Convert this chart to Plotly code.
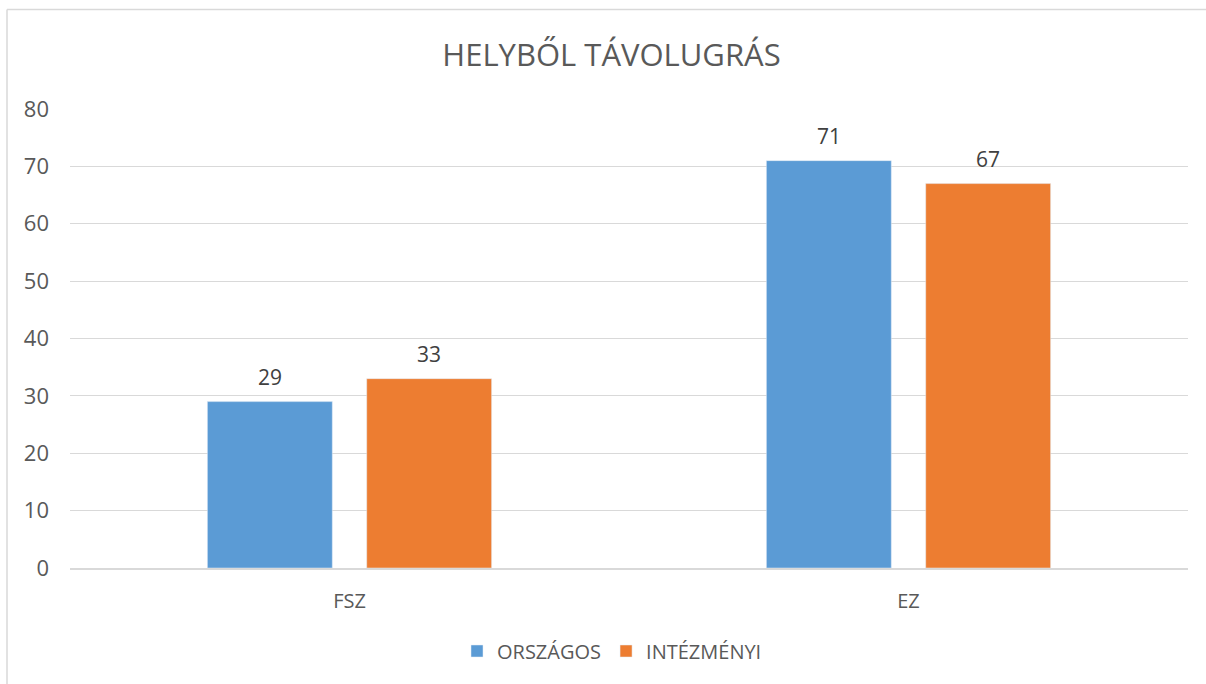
import plotly.graph_objects as go

categories = ["FSZ", "EZ"]
orszagos = [29, 71]
intezmenyi = [33, 67]
series_names = ["ORSZÁGOS", "INTÉZMÉNYI"]
title_text = "HELYBŐL TÁVOLUGRÁS"
y_ticks = [0, 10, 20, 30, 40, 50, 60, 70, 80]

W, H = 1206, 684
ml, mr, mt, mb = 70, 18, 109, 116
pw = W - ml - mr
ph = H - mt - mb

BARGAP = 0.43
BARGROUPGAP = 0.216

font_fam = "Open Sans, Liberation Sans, sans-serif"
txt_col = "#595959"
lbl_col = "#404040"

fig = go.Figure()
series = [orszagos, intezmenyi]
colors = ["#5B9BD5", "#ED7D31"]
for name, vals, col in zip(series_names, series, colors):
    fig.add_trace(go.Bar(x=categories, y=vals, name=name, marker_color=col))

# data labels above bars, aligned with group offsets
n = len(series)
slot = (1 - BARGAP) / n
for si, vals in enumerate(series):
    off = -((1 - BARGAP) / 2) + slot * (si + 0.5)
    for ci, v in enumerate(vals):
        fig.add_annotation(x=ci + off, y=v, xref="x", yref="y", text=str(v),
                           showarrow=False, yanchor="middle", yshift=25,
                           font=dict(family=font_fam, size=21, color=lbl_col))


def px_x(x):
    return (x - ml) / pw


def px_y(y):
    return (H - mb - y) / ph


fig.add_shape(type="line", xref="paper", yref="paper",
              x0=px_x(7), x1=px_x(1215), y0=px_y(9.5), y1=px_y(9.5),
              line=dict(color="#D9D9D9", width=1.5))
fig.add_shape(type="line", xref="paper", yref="paper",
              x0=px_x(7), x1=px_x(7), y0=px_y(9.5), y1=px_y(700),
              line=dict(color="#D9D9D9", width=1.5))

fig.update_layout(
    width=W, height=H,
    margin=dict(l=ml, r=mr, t=mt, b=mb, autoexpand=False),
    paper_bgcolor="white", plot_bgcolor="white",
    barmode="group", bargap=BARGAP, bargroupgap=BARGROUPGAP,
    title=dict(text=title_text, x=611.5 / W, xanchor="center", y=1 - 55 / H, yanchor="middle",
               font=dict(family=font_fam, size=31, color=txt_col)),
    font=dict(family=font_fam, size=20, color=txt_col),
    xaxis=dict(showgrid=False, showline=True, linecolor="#D9D9D9", linewidth=1.5,
               ticks="", tickfont=dict(size=20, color=txt_col), ticklabelstandoff=14),
    yaxis=dict(range=[0, 80], tickvals=y_ticks, showgrid=True, gridcolor="#D9D9D9",
               gridwidth=1.2, zeroline=False, showline=False, ticks="",
               tickfont=dict(size=22, color=txt_col), ticklabelstandoff=20),
    legend=dict(orientation="h", x=px_x(612), xanchor="center", y=px_y(651), yanchor="middle",
                font=dict(size=20, color=txt_col), itemwidth=30, traceorder="normal"),
)

fig.write_html("out.html", config={"displayModeBar": False},
               post_script="document.body.style.margin='0';document.body.style.overflow='hidden';")
